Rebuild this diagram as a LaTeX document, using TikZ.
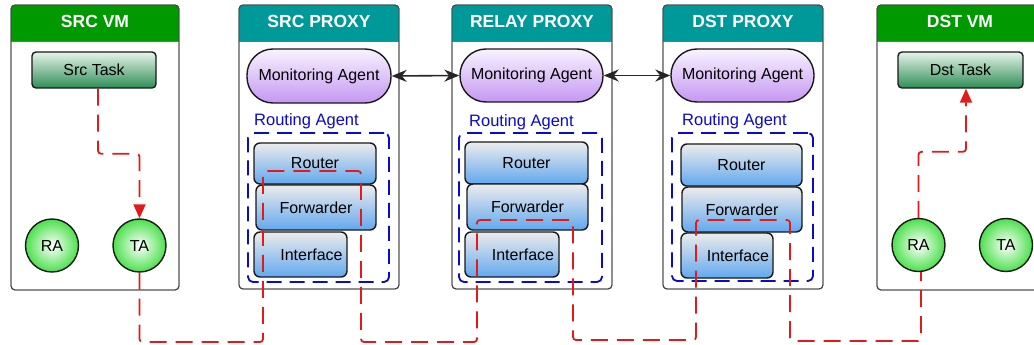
\documentclass[tikz,border=0pt]{standalone}
\usepackage{fontspec}
\setmainfont{Liberation Sans}
\usetikzlibrary{arrows.meta}
\definecolor{vmgreen}{HTML}{009900}
\definecolor{pxteal}{HTML}{009999}
\definecolor{flowred}{HTML}{E31A1A}
\definecolor{rablue}{HTML}{0A0ACC}
\definecolor{compgray}{HTML}{ECECEC}
\definecolor{compblue}{HTML}{62A8EE}
\definecolor{mapurple}{HTML}{C597F2}
\definecolor{matop}{HTML}{F8F3FE}
\definecolor{tasktop}{HTML}{E6F4EA}
\definecolor{taskbot}{HTML}{2E8E56}
\definecolor{circgreen}{HTML}{4CE04C}
\newcommand\bodyfs{\fontsize{16}{19}\selectfont}
\newcommand\hdrfs{\fontsize{17.5}{20}\selectfont\bfseries}
\newcommand\rafs{\fontsize{16.5}{19}\selectfont}
% #1 style, #2 name, #3 x1, #4 y1, #5 x2, #6 y2, #7 text
\newcommand\bx[7]{%
  \node[#1, minimum width={#5-#3}, minimum height={#6-#4}] (#2) at ({(#3+#5)/2},{(#4+#6)/2}) {#7};
}
\newcommand\mkcont[7]{%
  \bx{container}{#1}{#2}{#3}{#4}{#5}{}
  \begin{scope}
    \clip[rounded corners=4pt] (#2,#3) rectangle (#4,#5);
    \fill[#6] (#2,#3) rectangle (#4,41);
  \end{scope}
  \draw[black!55, line width=0.6pt] (#2,41) -- (#4,41);
  \draw[black!75, line width=0.9pt, rounded corners=4pt] (#2,#3) rectangle (#4,#5);
  \node[hdrtext] (#1-title) at ({(#2+#4)/2},21) {#7};
}
\begin{document}
\begin{tikzpicture}[x=1pt,y=-1pt,
 container/.style={draw=black!75, line width=0.9pt, rounded corners=4pt, inner sep=0pt, fill=white},
 hdrtext/.style={text=white, font=\hdrfs, inner sep=0pt},
 comp/.style={draw=black!90, line width=1.4pt, rounded corners=6pt, top color=compgray, bottom color=compblue, inner sep=0pt, font=\bodyfs},
 agent/.style={draw=black!90, line width=1.4pt, rounded corners=26pt, top color=matop, bottom color=mapurple, inner sep=0pt, font=\bodyfs},
 task/.style={draw=black!90, line width=1.4pt, rounded corners=4pt, top color=tasktop, bottom color=taskbot, inner sep=0pt, font=\bodyfs},
 circ/.style={circle, draw=black!90, line width=1.4pt, inner color=white, outer color=circgreen, minimum size=53pt, inner sep=0pt, font=\bodyfs},
 ragroup/.style={draw=rablue, line width=1.8pt, dash pattern=on 15pt off 8pt, rounded corners=5pt, inner sep=0pt},
 ralabel/.style={text=rablue, font=\rafs, anchor=west, inner sep=0pt},
 flow/.style={draw=flowred, line width=1.8pt, dash pattern=on 17pt off 9pt, rounded corners=3pt},
 flowtip/.style={-{Triangle[width=12pt,length=14pt]}},
 monlink/.style={draw=black!85, line width=1.6pt, {Stealth[length=15pt,width=12pt]}-{Stealth[length=15pt,width=12pt]}},
]
\clip (0,0) rectangle (1034,345);
\fill[white] (0,0) rectangle (1034,345);

% containers
\mkcont{srcvm}{11}{5}{179}{290}{vmgreen}{SRC VM}
\mkcont{srcpx}{239}{5}{399}{289}{pxteal}{SRC PROXY}
\mkcont{relaypx}{452}{5}{612}{289}{pxteal}{RELAY PROXY}
\mkcont{dstpx}{663}{5}{823}{289}{pxteal}{DST PROXY}
\mkcont{dstvm}{877}{5}{1043}{290}{vmgreen}{DST VM}

% VM contents
\bx{task}{srctask}{32}{52}{156}{88}{Src Task}
\bx{task}{dsttask}{898}{52}{1023}{88}{Dst Task}
\node[circ] (srcra) at (52,245.5) {RA};
\node[circ] (srcta) at (139.5,245.5) {TA};
\node[circ] (dstra) at (918.5,245) {RA};
\node[circ] (dstta) at (1006,245) {TA};

% monitoring agents
\bx{agent}{srcma}{247}{49}{391}{103}{Monitoring Agent}
\bx{agent}{relayma}{460}{49}{603}{102}{Monitoring Agent}
\bx{agent}{dstma}{671}{49}{814}{102}{Monitoring Agent}

% routing agents
\node[ralabel] (srcral) at (254,121.5) {Routing Agent};
\node[ralabel] (relayral) at (469,122.5) {Routing Agent};
\node[ralabel] (dstral) at (682,121.5) {Routing Agent};
\bx{ragroup}{srcrag}{248}{133}{389}{282}{}
\bx{ragroup}{relayrag}{459}{133}{602}{282}{}
\bx{ragroup}{dstrag}{672}{133}{813}{281}{}

\bx{comp}{srcrouter}{254}{143}{376}{184}{Router}
\bx{comp}{srcfwd}{256}{185}{376}{230}{Forwarder}
\bx{comp, label={[font=\bodyfs, xshift=11pt]center:Interface}}{srcif}{254}{232}{347}{277}{}

\bx{comp}{relayrouter}{465}{142}{588}{184}{Router}
\bx{comp}{relayfwd}{467}{184}{588}{230}{Forwarder}
\bx{comp, label={[font=\bodyfs, xshift=11pt]center:Interface}}{relayif}{465}{232}{559}{277}{}

\bx{comp}{dstrouter}{681}{144}{802}{186}{Router}
\bx{comp}{dstfwd}{682}{187}{802}{232}{Forwarder}
\bx{comp, label={[font=\bodyfs, xshift=11pt]center:Interface}}{dstif}{681}{233}{773}{278}{}

% monitoring links
\draw[monlink] (srcma.east) -- (relayma.west);
\draw[monlink] (relayma.east) -- (dstma.west);

% data flow
\draw[flow, flowtip] ([xshift=4pt]srctask.south) -- ++(0,65) -| (srcta.north);
\draw[flow] (srcta.south) -- (139.5,342) -| (263,171) -| (361,342) -| (477,220)
  -| (573,340) -| (696,220) -| (790,341) -| ([xshift=2.5pt]dstra.south);
\draw[flow, flowtip] (dstra.north) -- ++(0,-66) -| ([xshift=5.5pt]dsttask.south);
\end{tikzpicture}
\end{document}
